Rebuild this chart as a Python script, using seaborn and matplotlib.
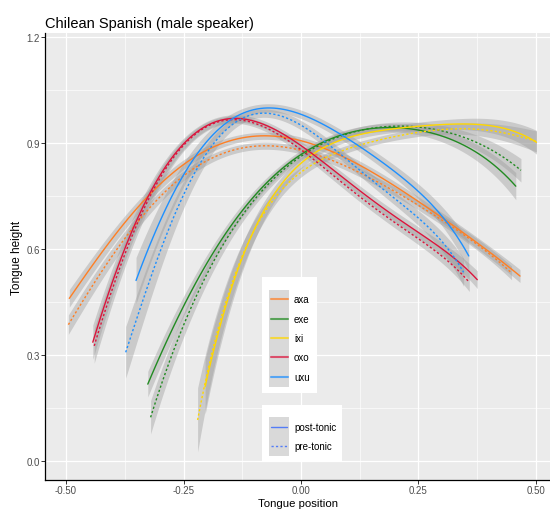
import numpy as np
import pandas as pd
import matplotlib
matplotlib.use("Agg")
import matplotlib.pyplot as plt
from matplotlib.patches import Rectangle
from matplotlib.lines import Line2D
import seaborn as sns

# ---------------- data ----------------
vowels = ["axa", "exe", "ixi", "oxo", "uxu"]
stress = ["post-tonic", "pre-tonic"]
colors = {"axa": "#FF7F24", "exe": "#228B22", "ixi": "#FFD700", "oxo": "#DC143C", "uxu": "#1E90FF"}

axa_post_x = [-0.493, -0.442, -0.371, -0.300, -0.251, -0.187, -0.116, -0.045, 0.012, 0.087, 0.157, 0.246, 0.299, 0.353, 0.466]
axa_post_y = [0.457, 0.562, 0.685, 0.775, 0.836, 0.892, 0.916, 0.919, 0.907, 0.862, 0.807, 0.737, 0.694, 0.638, 0.523]
axa_pre_x = [-0.495, -0.442, -0.371, -0.300, -0.257, -0.187, -0.116, -0.045, 0.026, 0.087, 0.157, 0.228, 0.281, 0.353, 0.448]
axa_pre_y = [0.388, 0.496, 0.638, 0.742, 0.808, 0.860, 0.886, 0.888, 0.869, 0.838, 0.795, 0.745, 0.700, 0.628, 0.534]

exe_post_x = [-0.326, -0.293, -0.222, -0.179, -0.109, -0.055, -0.009, 0.015, 0.087, 0.193, 0.257, 0.296, 0.335, 0.367, 0.403, 0.438, 0.457]
exe_post_y = [0.215, 0.322, 0.515, 0.590, 0.742, 0.817, 0.860, 0.875, 0.918, 0.949, 0.938, 0.918, 0.898, 0.878, 0.848, 0.808, 0.775]
exe_pre_x = [-0.320, -0.266, -0.211, -0.165, -0.098, -0.006, 0.015, 0.087, 0.193, 0.250, 0.296, 0.367, 0.438, 0.468]
exe_pre_y = [0.124, 0.326, 0.515, 0.600, 0.742, 0.860, 0.878, 0.918, 0.945, 0.945, 0.940, 0.902, 0.855, 0.822]

ixi_post_x = [-0.204, -0.179, -0.140, -0.109, -0.055, -0.009, 0.015, 0.121, 0.193, 0.264, 0.296, 0.334, 0.367, 0.406, 0.438, 0.501]
ixi_post_y = [0.227, 0.326, 0.515, 0.628, 0.779, 0.836, 0.850, 0.911, 0.940, 0.954, 0.956, 0.956, 0.954, 0.944, 0.935, 0.905]
ixi_pre_x = [-0.220, -0.187, -0.144, -0.109, -0.055, 0.015, 0.157, 0.264, 0.296, 0.367, 0.438, 0.501]
ixi_pre_y = [0.114, 0.326, 0.515, 0.610, 0.765, 0.826, 0.902, 0.935, 0.940, 0.938, 0.926, 0.905]

oxo_post_x = [-0.443, -0.406, -0.371, -0.336, -0.307, -0.257, -0.222, -0.172, -0.116, -0.059, -0.009, 0.040, 0.087, 0.157, 0.211, 0.281, 0.375]
oxo_post_y = [0.340, 0.487, 0.609, 0.713, 0.798, 0.892, 0.935, 0.968, 0.963, 0.935, 0.897, 0.850, 0.810, 0.745, 0.676, 0.614, 0.515]
oxo_pre_x = [-0.440, -0.406, -0.371, -0.336, -0.300, -0.257, -0.222, -0.172, -0.116, -0.059, -0.009, 0.087, 0.211, 0.281, 0.358]
oxo_pre_y = [0.326, 0.470, 0.598, 0.705, 0.800, 0.885, 0.930, 0.965, 0.960, 0.928, 0.888, 0.795, 0.661, 0.600, 0.506]

uxu_post_x = [-0.351, -0.300, -0.265, -0.215, -0.187, -0.137, -0.094, -0.045, 0.012, 0.055, 0.087, 0.157, 0.228, 0.264, 0.317, 0.357]
uxu_post_y = [0.517, 0.666, 0.770, 0.892, 0.925, 0.982, 0.996, 0.987, 0.968, 0.944, 0.930, 0.874, 0.779, 0.742, 0.666, 0.581]
uxu_pre_x = [-0.373, -0.336, -0.300, -0.265, -0.215, -0.172, -0.116, -0.059, 0.012, 0.055, 0.087, 0.157, 0.211, 0.281, 0.346]
uxu_pre_y = [0.312, 0.459, 0.581, 0.694, 0.855, 0.940, 0.980, 0.963, 0.925, 0.897, 0.878, 0.807, 0.723, 0.638, 0.539]

# confidence band half-width (pixels, perpendicular) in middle / left end / right end
band_mid = {"axa": 3.5, "exe": 3.5, "ixi": 3.5, "oxo": 3.5, "uxu": 4.0}
band_left = {"axa": 5, "exe": 5, "ixi": 6, "oxo": 5, "uxu": 8}
band_right = {"axa": 5, "exe": 9, "ixi": 10, "oxo": 6, "uxu": 7}

x_ticks = [-0.50, -0.25, 0.00, 0.25, 0.50]
x_tick_labels = ["-0.50", "-0.25", "0.00", "0.25", "0.50"]
y_ticks = [0.0, 0.3, 0.6, 0.9, 1.2]
y_tick_labels = ["0.0", "0.3", "0.6", "0.9", "1.2"]

series = {
    ("axa", "post-tonic"): (axa_post_x, axa_post_y),
    ("axa", "pre-tonic"): (axa_pre_x, axa_pre_y),
    ("exe", "post-tonic"): (exe_post_x, exe_post_y),
    ("exe", "pre-tonic"): (exe_pre_x, exe_pre_y),
    ("ixi", "post-tonic"): (ixi_post_x, ixi_post_y),
    ("ixi", "pre-tonic"): (ixi_pre_x, ixi_pre_y),
    ("oxo", "post-tonic"): (oxo_post_x, oxo_post_y),
    ("oxo", "pre-tonic"): (oxo_pre_x, oxo_pre_y),
    ("uxu", "post-tonic"): (uxu_post_x, uxu_post_y),
    ("uxu", "pre-tonic"): (uxu_pre_x, uxu_pre_y),
}
frames = []
for (v, s), (xs, ys) in series.items():
    frames.append(pd.DataFrame({"x": xs, "y": ys, "vowel": v, "stress": s}))
df = pd.concat(frames, ignore_index=True)

# ---------------- figure ----------------
sns.set_theme(style="darkgrid")
plt.rcParams["font.family"] = ["Liberation Sans", "DejaVu Sans"]

W, H = 550, 510
fig = plt.figure(figsize=(W / 100, H / 100), dpi=100)
PL, PR, PT, PB = 45, 550, 34, 481
ax = fig.add_axes([PL / W, 1 - PB / H, (PR - PL) / W, (PB - PT) / H])
ax.set_facecolor("#EBEBEB")

XL = (-0.5447, 0.5298)
YL = (-0.0538, 1.2114)
ax.set_xlim(*XL)
ax.set_ylim(*YL)
px_per_x = (PR - PL) / (XL[1] - XL[0])
px_per_y = (PB - PT) / (YL[1] - YL[0])

ORDER = 5
for v in vowels:
    for s in stress:
        sub = df[(df.vowel == v) & (df.stress == s)]
        xs = sub.x.to_numpy()
        ys = sub.y.to_numpy()
        coef = np.polyfit(xs, ys, ORDER)
        xx = np.linspace(xs.min(), xs.max(), 200)
        yy = np.polyval(coef, xx)
        slope = np.polyval(np.polyder(coef), xx) * px_per_y / px_per_x
        t = (xx - xs.min()) / (xs.max() - xs.min())
        hw_px = (band_mid[v]
                 + (band_left[v] - band_mid[v]) * np.clip(1 - 2 * t, 0, 1) ** 2
                 + (band_right[v] - band_mid[v]) * np.clip(2 * t - 1, 0, 1) ** 2)
        hw = hw_px / px_per_y * np.sqrt(1 + slope ** 2)
        ax.fill_between(xx, yy - hw, yy + hw, color="#999999", alpha=0.4, lw=0, zorder=2)
        ls = "-" if s == "post-tonic" else (0, (1.6, 1.6))
        sns.regplot(data=sub, x="x", y="y", order=ORDER, scatter=False, ci=None,
                    truncate=True, ax=ax,
                    line_kws=dict(color=colors[v], lw=1.0, linestyle=ls, zorder=3))

ax.set_xticks(x_ticks)
ax.set_xticklabels(x_tick_labels)
ax.set_yticks(y_ticks)
ax.set_yticklabels(y_tick_labels)
ax.set_xticks([-0.375, -0.125, 0.125, 0.375], minor=True)
ax.set_yticks([0.15, 0.45, 0.75, 1.05], minor=True)
ax.grid(which="major", color="white", lw=0.9)
ax.grid(which="minor", color="white", lw=0.45)
ax.set_axisbelow(True)
for sp in ["top", "right"]:
    ax.spines[sp].set_visible(False)
for sp in ["left", "bottom"]:
    ax.spines[sp].set_visible(True)
    ax.spines[sp].set_color("black")
    ax.spines[sp].set_linewidth(0.9)
ax.tick_params(which="major", length=2.6, width=0.7, color="#333333", labelsize=7,
               labelcolor="#4D4D4D", pad=1.2, bottom=True, left=True)
ax.tick_params(which="minor", length=0)

ax.set_xlabel("Tongue position", fontsize=8.2, color="black")
ax.xaxis.set_label_coords(0.5, -(509 - PB) / (PB - PT), transform=ax.transAxes)
ax.xaxis.label.set_va("bottom")
ax.set_ylabel("Tongue height", fontsize=8.5, color="black", labelpad=2)
ax.set_title("Chilean Spanish (male speaker)", loc="left", fontsize=10.5, color="black", pad=4.5)

# ---------------- legends (ggplot-style, inside panel) ----------------
def fx(px):
    return px / W

def fy(py):
    return 1 - py / H

def rect(x0, y0, x1, y1, color):
    fig.add_artist(Rectangle((fx(x0), fy(y1)), fx(x1) - fx(x0), fy(y0) - fy(y1),
                             transform=fig.transFigure, facecolor=color, edgecolor="none", zorder=5))

# colour legend
rect(262, 278, 317, 394, "white")
rect(269, 290.5, 289, 387.5, "#D9D9D9")
key_h = (387.5 - 290.5) / len(vowels)
for i, v in enumerate(vowels):
    yc = 290.5 + key_h * (i + 0.5)
    fig.add_artist(Line2D([fx(270.5), fx(287.5)], [fy(yc), fy(yc)], transform=fig.transFigure,
                          color=colors[v], lw=1.5, alpha=0.7, zorder=6))
    fig.text(fx(294), fy(yc), v, fontsize=7, color="black", va="center", ha="left", zorder=6)

# linetype legend
rect(262, 406, 342, 462, "white")
rect(269, 418.3, 288.5, 456.7, "#D9D9D9")
key_h2 = (456.7 - 418.3) / 2
for i, s in enumerate(stress):
    yc = 418.3 + key_h2 * (i + 0.5)
    ls = "-" if s == "post-tonic" else (0, (1.6, 1.6))
    fig.add_artist(Line2D([fx(270.5), fx(287)], [fy(yc), fy(yc)], transform=fig.transFigure,
                          color="#3366FF", lw=1.0, alpha=0.8, linestyle=ls, zorder=6))
    fig.text(fx(294), fy(yc), s, fontsize=7, color="black", va="center", ha="left", zorder=6)

fig.savefig("out.png", dpi=100)
